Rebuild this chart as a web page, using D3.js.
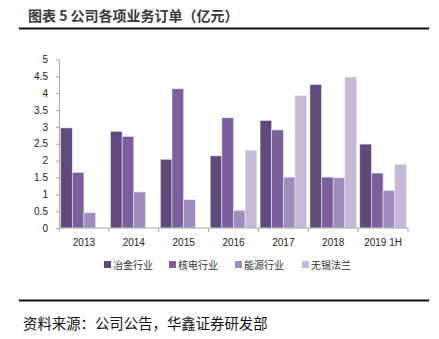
<!DOCTYPE html>
<html>
<head>
<meta charset="utf-8">
<script src="https://cdn.jsdelivr.net/npm/d3@7/dist/d3.min.js"></script>
<style>
  html, body { margin: 0; padding: 0; background: #ffffff; }
  svg { display: block; }
</style>
</head>
<body>
<div id="chart"></div>
<script>
// Order backlog by business line, 100 million yuan
const categories = ["2013", "2014", "2015", "2016", "2017", "2018", "2019 1H"];
const seriesNames = ["冶金行业", "核电行业", "能源行业", "无锡法兰"];
const metallurgy = [2.97, 2.87, 2.04, 2.14, 3.19, 4.26, 2.49];
const nuclear    = [1.65, 2.72, 4.13, 3.27, 2.91, 1.51, 1.63];
const energy     = [0.45, 1.07, 0.84, 0.52, 1.51, 1.49, 1.12];
const wuxiFlange = [null, null, null, 2.31, 3.93, 4.48, 1.89];
const yTicks = [0, 0.5, 1, 1.5, 2, 2.5, 3, 3.5, 4, 4.5, 5];
const titleText = "图表 5 公司各项业务订单（亿元）";
const sourceText = "资料来源：公司公告，华鑫证券研发部";

const seriesValues = [metallurgy, nuclear, energy, wuxiFlange];
const colors = ["#604a7b", "#7a5f9c", "#a08cbc", "#c5b9d6"];

const W = 439, H = 339;
const svg = d3.select("#chart").append("svg").attr("width", W).attr("height", H);

const cjk = "'Noto Sans CJK SC', 'Noto Sans', sans-serif";
const numFont = "'Liberation Sans', 'DejaVu Sans', sans-serif";

// Header
svg.append("text")
  .attr("x", 28).attr("y", 21)
  .attr("font-family", cjk).attr("font-size", 14).attr("font-weight", 700)
  .attr("fill", "#3a3a3a")
  .attr("xml:space", "preserve")
  .text(titleText);
svg.append("line")
  .attr("x1", 19).attr("x2", 429).attr("y1", 28.5).attr("y2", 28.5)
  .attr("stroke", "#111").attr("stroke-width", 2);

// Plot area
const plot = { left: 59, right: 408, top: 59.5, bottom: 228 };

const x = d3.scaleBand().domain(categories).range([plot.left, plot.right]).paddingInner(0).paddingOuter(0);
const inner = d3.scaleBand().domain(d3.range(seriesNames.length))
  .range([0, x.bandwidth()]).paddingInner(0).paddingOuter(0.14);
const y = d3.scaleLinear().domain([0, 5]).range([plot.bottom, plot.top]);

// Bars
seriesValues.forEach((vals, si) => {
  svg.append("g").selectAll("rect")
    .data(categories.map((c, i) => ({ c, v: vals[i] })).filter(d => d.v != null))
    .join("rect")
    .attr("x", d => x(d.c) + inner(si))
    .attr("y", d => y(d.v))
    .attr("width", inner.bandwidth())
    .attr("height", d => y(0) - y(d.v))
    .attr("fill", colors[si])
    .attr("stroke", "#ece8f2")
    .attr("stroke-width", 0.6);
});

// Y axis
const yAxis = svg.append("g")
  .attr("transform", `translate(${plot.left},0)`)
  .call(d3.axisLeft(y).tickValues(yTicks).tickSize(3).tickSizeOuter(0).tickFormat(d3.format("")));
yAxis.select(".domain").attr("stroke", "#a6a6a6");
yAxis.selectAll(".tick line").attr("stroke", "#a6a6a6");
yAxis.selectAll(".tick text")
  .attr("x", -11)
  .attr("font-family", numFont).attr("font-size", 10).attr("fill", "#222");

// X axis with ticks at band boundaries
const xAxisG = svg.append("g").attr("transform", `translate(0,${plot.bottom})`);
xAxisG.append("line")
  .attr("x1", plot.left).attr("x2", plot.right)
  .attr("stroke", "#a6a6a6");
const boundaries = categories.map(c => x(c)).concat([x(categories[categories.length - 1]) + x.bandwidth()]);
xAxisG.selectAll("line.tk").data(boundaries).join("line")
  .attr("class", "tk")
  .attr("x1", d => d).attr("x2", d => d).attr("y1", 0).attr("y2", 4)
  .attr("stroke", "#a6a6a6");
xAxisG.selectAll("text").data(categories).join("text")
  .attr("x", d => x(d) + x.bandwidth() / 2)
  .attr("y", 17.5)
  .attr("text-anchor", "middle")
  .attr("font-family", numFont).attr("font-size", 10).attr("fill", "#222")
  .text(d => d);

// Legend
const legendX = [104, 169, 235, 302];
const legend = svg.append("g");
seriesNames.forEach((name, i) => {
  legend.append("rect")
    .attr("x", legendX[i]).attr("y", 261)
    .attr("width", 7).attr("height", 7)
    .attr("fill", colors[i]);
  legend.append("text")
    .attr("x", legendX[i] + 9).attr("y", 268.5)
    .attr("font-family", cjk).attr("font-size", 10).attr("fill", "#333")
    .text(name);
});

// Footer
svg.append("line")
  .attr("x1", 19).attr("x2", 429).attr("y1", 300.5).attr("y2", 300.5)
  .attr("stroke", "#111").attr("stroke-width", 2);
svg.append("text")
  .attr("x", 23).attr("y", 328.5)
  .attr("font-family", cjk).attr("font-size", 14.4).attr("fill", "#111")
  .text(sourceText);
</script>
</body>
</html>
